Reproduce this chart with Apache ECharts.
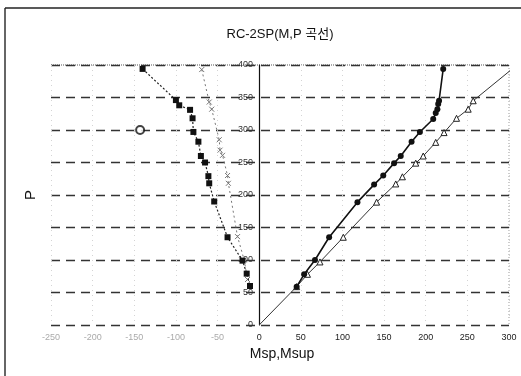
<!DOCTYPE html>
<html><head><meta charset="utf-8">
<script src="https://cdn.jsdelivr.net/npm/echarts@6/dist/echarts.min.js"></script>
<style>html,body{margin:0;padding:0;background:#fff}#c{width:521px;height:376px}</style>
</head><body><div id="c"></div>
<script>
const titleText = 'RC-2SP(M,P 곡선)';
const xName = 'Msp,Msup';
const yName = 'P';
// right side: Msp (filled circles)
const mspPos = [[45,59],[54,78],[67,100],[84,135],[118,189],[138,216],[149,230],[162,249],[170,260],[183,282],[193,297],[209,317],[212,326],[214,332],[215,340],[216,345],[221,394]];
// right side: Msup (open triangles)
const msupPos = [[0,0],[45,59],[58,78],[73,97],[101,135],[141,189],[164,217],[172,228],[188,249],[197,260],[212,281],[222,296],[237,318],[251,332],[257,345],[302,392]];
// left side: filled squares
const mspNeg = [[-140,394],[-100,346],[-96,338],[-83,331],[-80,318],[-79,297],[-73,282],[-70,260],[-65,250],[-61,229],[-60,218],[-54,190],[-38,135],[-20,99],[-15,79],[-11,60]];
// left side: crosses
const msupNeg = [[-69,393],[-60,343],[-57,332],[-48,285],[-47,269],[-44,261],[-38,230],[-37,218],[-26,136],[-18,100],[-14,70]];
// stray marker
const strayPt = [[-143,300]];

const chart = echarts.init(document.getElementById('c'));
chart.setOption({
  animation:false,
  backgroundColor:'#fff',
  textStyle:{fontFamily:'Liberation Sans, Arial, "Noto Sans CJK KR", sans-serif'},
  title:{text:titleText,left:275,top:23,textAlign:'center',
    textStyle:{fontSize:13,fontWeight:'normal',color:'#111',fontFamily:'Liberation Sans, "Noto Sans CJK KR", sans-serif'}},
  grid:{left:51,right:12,top:65,bottom:51},
  graphic:[
    {type:'line',shape:{x1:5,y1:8,x2:5,y2:376},style:{stroke:'#333',lineWidth:1.5}},
    {type:'line',shape:{x1:5,y1:8,x2:521,y2:8},style:{stroke:'#222',lineWidth:1.5}},
    {type:'line',shape:{x1:509,y1:65,x2:509,y2:325},style:{stroke:'#999',lineWidth:1,lineDash:[1,2]}},
    {type:'line',shape:{x1:51,y1:65,x2:509,y2:65},style:{stroke:'#555',lineWidth:1,lineDash:[1,1]}},
    {type:'text',x:31,y:195,rotation:Math.PI/2,style:{text:yName,font:'15px Liberation Sans, Arial, sans-serif',fill:'#111',textAlign:'center',textVerticalAlign:'middle'}}
  ],
  xAxis:{type:'value',min:-250,max:300,interval:50,
    name:xName,nameLocation:'middle',nameGap:22,
    nameTextStyle:{fontSize:14,color:'#111',padding:[0,0,0,4]},
    axisLine:{show:false},axisTick:{show:false},
    axisLabel:{fontSize:9,margin:8,color:function(v){return v<0?'#aaa':'#222';}},
    splitLine:{show:true,lineStyle:{color:'#d4d4d4',type:[1,4],width:1}}},
  yAxis:{type:'value',min:0,max:400,interval:50,
    axisLine:{show:true,onZero:true,lineStyle:{color:'#111',width:1.2}},
    axisTick:{show:false},
    axisLabel:{fontSize:9,margin:-202,color:'#333',showMaxLabel:true},
    splitLine:{show:true,lineStyle:{color:'#333',type:[9,6],width:1.3}}},
  series:[
    {type:'line',data:mspPos,symbol:'circle',symbolSize:6,
      lineStyle:{color:'#111',width:1.6},itemStyle:{color:'#111'},z:5},
    {type:'line',data:msupPos.map((p,i)=> (i===0||i===msupPos.length-1)?{value:p,symbol:'none'}:p),
      symbol:'triangle',symbolSize:6,
      lineStyle:{color:'#333',width:1},itemStyle:{color:'#fff',borderColor:'#222',borderWidth:1},z:4},
    {type:'line',data:mspNeg,symbol:'rect',symbolSize:6,
      lineStyle:{color:'#222',width:1.2,type:[2,2]},itemStyle:{color:'#111'},z:5},
    {type:'line',data:msupNeg,symbol:'path://M0,0L10,10M10,0L0,10',symbolSize:5,
      lineStyle:{color:'#777',width:1,type:[2,3]},itemStyle:{color:'#fff',borderColor:'#777',borderWidth:1},z:4},
    {type:'scatter',data:strayPt,symbol:'circle',symbolSize:8,
      itemStyle:{color:'#fff',borderColor:'#111',borderWidth:2},z:5}
  ]
});
</script></body></html>
